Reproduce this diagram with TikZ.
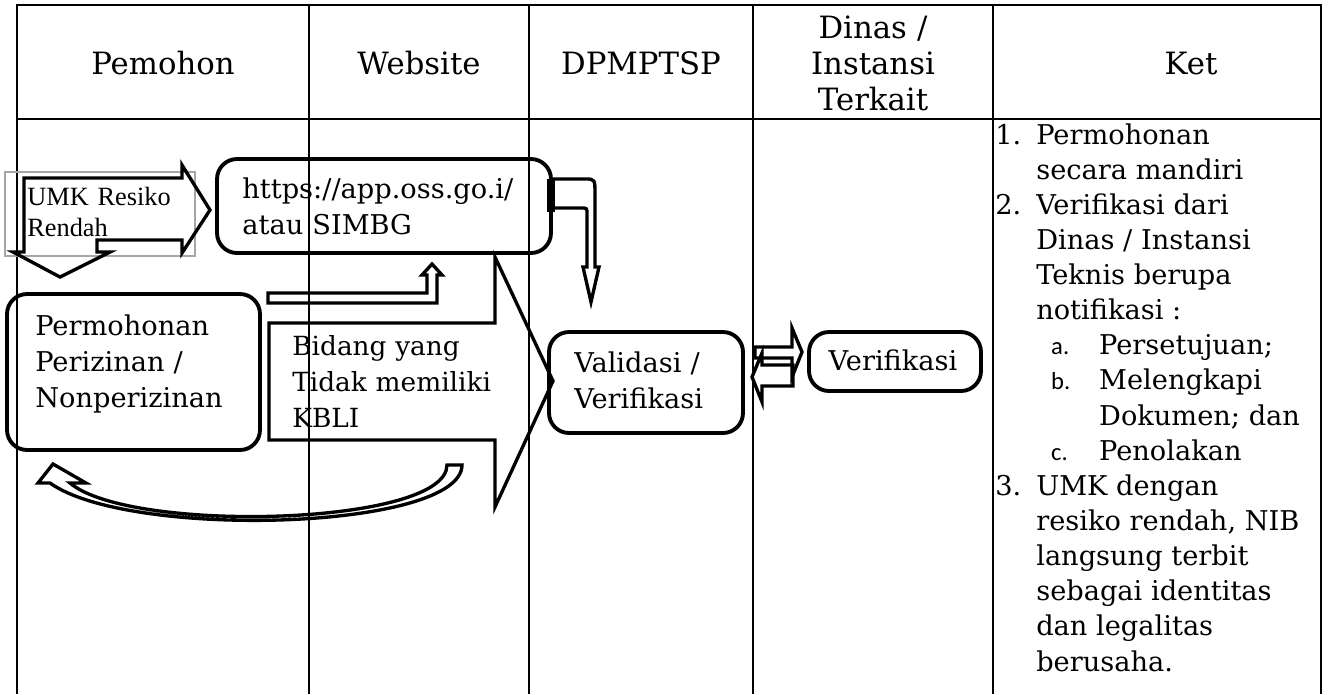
\documentclass[tikz,border=0pt]{standalone}
\usepackage{fontspec}
\setmainfont{DejaVu Serif}
\newfontfamily\umkfont{Liberation Serif}
\newfontfamily\subfont{Carlito}
\usetikzlibrary{positioning}
\definecolor{umkgrey}{HTML}{A6A6A6}
\newcommand{\bodysize}{\fontsize{15.5}{20.5}\selectfont}
\newcommand{\headsize}{\fontsize{17.5}{20.5}\selectfont}
\newcommand{\subl}[1]{\hspace*{8.5pt}{\subfont\fontsize{14}{20}\selectfont #1}}
\newcommand{\ketline}[1]{\multicolumn{2}{@{}l@{}}{#1}}
\tikzset{
  font=\bodysize,
  grid/.style={line width=0.9pt},
  frame/.style={line width=1.2pt},
  pbox/.style={draw,line width=2.2pt,rounded corners=0.4cm,inner sep=0pt},
  blockarrow/.style={draw,line width=1.9pt,line join=miter},
  txt/.style={inner sep=0pt,anchor=base west,align=left,text width=6cm},
  hdr/.style={inner sep=0pt,anchor=base,font=\headsize},
}

\begin{document}
\begin{tikzpicture}[x=0.02cm,y=-0.02cm]
  \useasboundingbox (0,0) rectangle (1332,694);

  % table
  \draw[frame] (17,694) -- (17,5) -- (1321,5) -- (1321,694);
  \draw[grid] (17,119) -- (1321,119);
  \foreach \x in {309,529,753,993}
    \draw[grid] (\x,5) -- (\x,694);

  \node[hdr] (hpemohon) at (163,74) {Pemohon};
  \node[hdr] (hwebsite) at (419,74) {Website};
  \node[hdr] (hdpmptsp) at (641,74) {DPMPTSP};
  \node[hdr,align=center,text width=4cm] (hdinas) at (873,38) {Dinas /\\Instansi\\Terkait};
  \node[hdr] (hket) at (1191,74) {Ket};

  % boxes
  \node[pbox,minimum width=6.68cm,minimum height=1.88cm] (web) at (384,206) {};
  \node[pbox,minimum width=5.06cm,minimum height=3.12cm] (perm) at (133.5,372) {};
  \node[pbox,minimum width=3.88cm,minimum height=2.02cm] (valid) at (646,382.5) {};
  \node[pbox,minimum width=3.44cm,minimum height=1.18cm] (verif) at (895,361.5) {};
  \node[draw=umkgrey,line width=0.9pt,inner sep=0pt,minimum width=3.8cm,minimum height=1.68cm] (umkframe) at (100,214) {};

  % UMK arrow (right + down)
  \draw[blockarrow] (24,252) -- (24,178) -- (182,178) -- (182,165) -- (210,210) -- (182,253)
    -- (182,240) -- (97,240) -- (97,252) -- (110,252) -- (60,277) -- (13,252) -- cycle;

  % web -> validasi
  \fill (547,179) rectangle (555,212);
  \draw[blockarrow] (553,179) -- (585,179) .. controls (595,179) .. (595,195) -- (595,267)
    -- (599,267) -- (591,302) -- (583,267) -- (587,267) -- (587,214)
    .. controls (587,208) .. (581,208) -- (553,208);

  % permohonan -> web
  \draw[blockarrow] (268,293) -- (427,293) -- (427,275) -- (422,275) -- (432,264)
    -- (442,275) -- (437,275) -- (437,303) -- (268,303) -- cycle;

  % bidang tanpa KBLI
  \draw[blockarrow] (269,323) -- (495,323) -- (495,257) -- (553,381) -- (495,507)
    -- (495,440) -- (269,440) -- cycle;

  % kembali ke pemohon
  \draw[blockarrow] (53,464) -- (38,483) -- (50,483) .. controls (130,540) and (462,530) .. (462,465)
    -- (447,465) .. controls (447,526) and (130,534) .. (70,483) -- (86,483) -- cycle;

  % validasi <-> verifikasi
  \draw[blockarrow] (755,347) -- (792,347) -- (792,328) -- (802,352) -- (792,377)
    -- (792,358) -- (755,358) -- cycle;
  \draw[blockarrow] (793,365) -- (762,365) -- (762,353) -- (752,377) -- (762,402)
    -- (762,386) -- (793,386) -- cycle;

  % texts
  \node[txt,font=\umkfont\fontsize{15}{18.2}\selectfont] (umktxt) at (27,205) {UMK Resiko\\Rendah};
  \node[txt] (webtxt) at (242,198) {https://app.oss.go.i/\\atau SIMBG};
  \node[txt] (permtxt) at (35,335) {Permohonan\\Perizinan /\\Nonperizinan};
  \node[txt,font=\fontsize{15}{20.5}\selectfont] (kblitxt) at (292,355) {Bidang yang\\Tidak memiliki\\KBLI};
  \node[txt] (validtxt) at (574,372) {Validasi /\\Verifikasi};
  \node[inner sep=0pt,anchor=base] (veriftxt) at (893,370) {Verifikasi};

  \node[inner sep=0pt,anchor=base west,font=\fontsize{15.5}{20}\selectfont] (ket) at (995,144) {%
    \begin{tabular}[t]{@{}p{23.3pt}@{}p{35.8pt}@{}l@{}}
      1. & \ketline{Permohonan}\\
         & \ketline{secara mandiri}\\
      2. & \ketline{Verifikasi dari}\\
         & \ketline{Dinas / Instansi}\\
         & \ketline{Teknis berupa}\\
         & \ketline{notifikasi :}\\
         & \subl{a.} & Persetujuan;\\
         & \subl{b.} & Melengkapi\\
         &            & Dokumen; dan\\
         & \subl{c.} & Penolakan\\
      3. & \ketline{UMK dengan}\\
         & \ketline{resiko rendah, NIB}\\
         & \ketline{langsung terbit}\\
         & \ketline{sebagai identitas}\\
         & \ketline{dan legalitas}\\
         & \ketline{berusaha.}
    \end{tabular}};
\end{tikzpicture}
\end{document}
